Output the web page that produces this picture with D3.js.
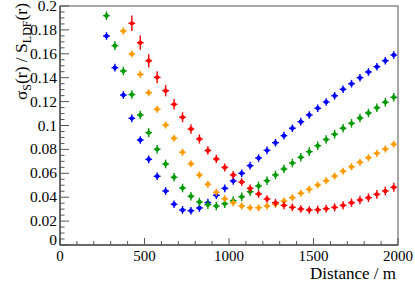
<!DOCTYPE html>
<html>
<head>
<meta charset="utf-8">
<script src="https://cdn.jsdelivr.net/npm/d3@7"></script>
<style>
  body { margin: 0; background: #fff; }
  svg { display: block; }
</style>
</head>
<body>
<script>
// distances of the bins (m)
var distances = [275, 325, 375, 425, 475, 525, 575, 625, 675, 725, 775, 825, 875, 925, 975,
  1025, 1075, 1125, 1175, 1225, 1275, 1325, 1375, 1425, 1475, 1525, 1575, 1625, 1675,
  1725, 1775, 1825, 1875, 1925, 1975];

// sigma_S / S_LDF for each series, null where no point
var blueVals = [0.1749, 0.1484, 0.1255, 0.1060, 0.0879, 0.0717, 0.0575, 0.0452, 0.0341, 0.0293,
  0.0287, 0.0310, 0.0354, 0.0416, 0.0474, 0.0536, 0.0600, 0.0664, 0.0728, 0.0792, 0.0856,
  0.0915, 0.0977, 0.1032, 0.1088, 0.1144, 0.1197, 0.1249, 0.1303, 0.1350, 0.1400, 0.1448,
  0.1492, 0.1542, 0.1590];
var greenVals = [0.1919, 0.1668, 0.1456, 0.1259, 0.1088, 0.0940, 0.0801, 0.0678, 0.0567, 0.0477,
  0.0408, 0.0360, 0.0337, 0.0326, 0.0346, 0.0371, 0.0404, 0.0446, 0.0494, 0.0538, 0.0586,
  0.0636, 0.0686, 0.0734, 0.0781, 0.0831, 0.0883, 0.0927, 0.0977, 0.1018, 0.1063, 0.1105,
  0.1149, 0.1194, 0.1236];
var orangeVals = [null, null, 0.1791, 0.1598, 0.1428, 0.1274, 0.1136, 0.1004, 0.0893, 0.0776,
  0.0680, 0.0586, 0.0508, 0.0441, 0.0387, 0.0354, 0.0326, 0.0312, 0.0312, 0.0326, 0.0341,
  0.0368, 0.0396, 0.0433, 0.0466, 0.0502, 0.0538, 0.0577, 0.0617, 0.0655, 0.0692, 0.0731,
  0.0767, 0.0803, 0.0843];
var redVals = [null, null, null, 0.1855, 0.1693, 0.1542, 0.1403, 0.1291, 0.1177, 0.1069,
  0.0971, 0.0887, 0.0791, 0.0720, 0.0649, 0.0586, 0.0527, 0.0474, 0.0427, 0.0385, 0.0354,
  0.0332, 0.0315, 0.0301, 0.0293, 0.0295, 0.0304, 0.0315, 0.0332, 0.0354, 0.0377, 0.0396,
  0.0424, 0.0452, 0.0483];

// vertical errors
var blueErr = 0.0032, greenErr = 0.0036, orangeErr = 0.0030;
var redErr = [null, null, null, 0.0065, 0.0060, 0.0055, 0.0050, 0.0047, 0.0044, 0.0042,
  0.0040, 0.0038, 0.0036, 0.0035, 0.0034, 0.0033, 0.0032, 0.0032, 0.0032, 0.0032, 0.0032,
  0.0032, 0.0032, 0.0032, 0.0032, 0.0033, 0.0033, 0.0034, 0.0034, 0.0035, 0.0035, 0.0036,
  0.0036, 0.0037, 0.0038];
var xErr = 20;

var xTicks = [0, 500, 1000, 1500, 2000];
var yTicks = [0, 0.02, 0.04, 0.06, 0.08, 0.1, 0.12, 0.14, 0.16, 0.18, 0.2];

var series = [
  {vals: blueVals, err: blueErr, color: "#0000ff"},
  {vals: greenVals, err: greenErr, color: "#009a00"},
  {vals: orangeVals, err: orangeErr, color: "#ff9a00"},
  {vals: redVals, err: redErr, color: "#ff0000"}
];

var FONT = "'Liberation Serif'";
var W = 415, H = 282;
var margin = {top: 6, right: 17, bottom: 37, left: 60};
var width = W - margin.left - margin.right,
    height = H - margin.top - margin.bottom;

var svg = d3.select("body").append("svg")
  .attr("width", W)
  .attr("height", H);

var x = d3.scaleLinear().domain([0, 2000]).range([0, width]);
var y = d3.scaleLinear().domain([0, 0.2]).range([height, 0]);

var g = svg.append("g")
  .attr("transform", "translate(" + margin.left + "," + margin.top + ")");

// frame
g.append("rect")
  .attr("width", width).attr("height", height)
  .attr("fill", "none").attr("stroke", "#8a8a8a").attr("stroke-width", 1.5);

// ticks, minor and major
g.append("g").selectAll("line")
  .data(d3.range(0, 2001, 100))
  .enter().append("line")
  .attr("x1", function(d) { return x(d); }).attr("x2", function(d) { return x(d); })
  .attr("y1", height).attr("y2", function(d) { return d % 500 === 0 ? height - 7 : height - 4; })
  .attr("stroke", "#555").attr("stroke-width", 1);
g.append("g").selectAll("line")
  .data(d3.range(0, 41))
  .enter().append("line")
  .attr("y1", function(d) { return y(d * 0.005); }).attr("y2", function(d) { return y(d * 0.005); })
  .attr("x1", 0).attr("x2", function(d) { return d % 4 === 0 ? 9 : 4.5; })
  .attr("stroke", "#555").attr("stroke-width", 1);

// axes lines
g.append("line").attr("x1", 0).attr("x2", width).attr("y1", height).attr("y2", height)
  .attr("stroke", "#555").attr("stroke-width", 1.5);
g.append("line").attr("x1", 0).attr("x2", 0).attr("y1", 0).attr("y2", height)
  .attr("stroke", "#555").attr("stroke-width", 1.5);

// tick labels
g.selectAll(".xl").data(xTicks).enter().append("text")
  .attr("class", "xl")
  .attr("x", function(d) { return x(d); })
  .attr("y", height + 16)
  .attr("text-anchor", "middle")
  .style("font-family", FONT)
  .attr("font-size", 15)
  .text(function(d) { return d; });
g.selectAll(".yl").data(yTicks).enter().append("text")
  .attr("class", "yl")
  .attr("x", -3)
  .attr("y", function(d) { return y(d) + (d === 0 ? 0 : 5); })
  .attr("text-anchor", "end")
  .style("font-family", FONT)
  .attr("font-size", 15.5)
  .text(function(d) { return d3.format("~g")(d); });

// axis titles
svg.append("text")
  .attr("x", 396).attr("y", 279)
  .attr("text-anchor", "end")
  .style("font-family", FONT)
  .attr("font-size", 17)
  .text("Distance / m");

var yt = svg.append("text")
  .attr("transform", "translate(27,3) rotate(-90)")
  .attr("text-anchor", "end")
  .style("font-family", FONT)
  .attr("font-size", 17.5);
yt.append("tspan").text("\u03c3");
yt.append("tspan").attr("font-size", 12).attr("dy", 4).text("S");
yt.append("tspan").attr("dy", -4).text("(r) / S");
yt.append("tspan").attr("font-size", 12).attr("dy", 4).text("LDF");
yt.append("tspan").attr("dy", -4).text("(r)");

// points with error bars
series.forEach(function(s) {
  var pts = distances.map(function(d, i) {
    return {x: d, y: s.vals[i], e: Array.isArray(s.err) ? s.err[i] : s.err};
  }).filter(function(p) { return p.y !== null; });
  var sg = g.append("g").attr("stroke", s.color).attr("fill", s.color);
  sg.selectAll(".ey").data(pts).enter().append("line")
    .attr("x1", function(p) { return x(p.x); }).attr("x2", function(p) { return x(p.x); })
    .attr("y1", function(p) { return y(p.y - p.e); }).attr("y2", function(p) { return y(p.y + p.e); })
    .attr("stroke-width", 1.4);
  sg.selectAll(".ex").data(pts).enter().append("line")
    .attr("x1", function(p) { return x(p.x - xErr); }).attr("x2", function(p) { return x(p.x + xErr); })
    .attr("y1", function(p) { return y(p.y); }).attr("y2", function(p) { return y(p.y); })
    .attr("stroke-width", 1.4);
  sg.selectAll("circle").data(pts).enter().append("circle")
    .attr("cx", function(p) { return x(p.x); })
    .attr("cy", function(p) { return y(p.y); })
    .attr("r", 2.2).attr("stroke", "none");
});
</script>
</body>
</html>
